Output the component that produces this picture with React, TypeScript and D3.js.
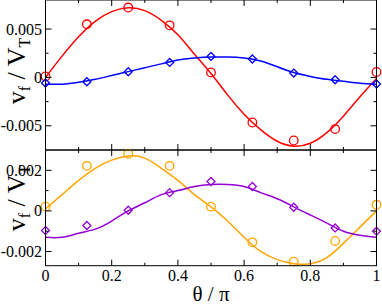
import React from "react";
import * as d3 from "d3";

// sample points (theta / pi)
const samples = [0, 0.125, 0.25, 0.375, 0.5, 0.625, 0.75, 0.875, 1];
const redPts = [0.0001, 0.00549, 0.00722, 0.00538, 0.00052, -0.00466, -0.00652, -0.00534, 0.00056];
const bluePts = [-0.00058, -0.00045, 0.00059, 0.00155, 0.00217, 0.0019, 0.00045, -0.00024, -0.00068];
const orangePts = [0.00021, 0.00222, 0.00281, 0.00222, 0.00021, -0.00155, -0.0025, -0.00148, 0.0003];
const purplePts = [-0.00097, -0.00072, 0.00003, 0.0009, 0.00145, 0.0012, 0.00018, -0.00084, -0.001];

// fitted curves, read at 0.05 steps
const curveX = [0, 0.05, 0.1, 0.15, 0.2, 0.25, 0.3, 0.35, 0.4, 0.45, 0.5, 0.55, 0.6, 0.65, 0.7, 0.75, 0.8, 0.85, 0.9, 0.95, 1];
const redFit = [0, 0.0022, 0.0042, 0.0058, 0.0068, 0.0072, 0.0069, 0.0059, 0.0044, 0.0024, 0.0004, -0.0018, -0.0038, -0.0054, -0.0066, -0.0071, -0.0068, -0.0057, -0.004, -0.002, -0.0001];
const blueFit = [-0.0007, -0.0007, -0.0005, -0.0002, 0.0002, 0.0006, 0.001, 0.0014, 0.0018, 0.002, 0.0021, 0.0021, 0.002, 0.0017, 0.0011, 0.0005, 0.0001, -0.0002, -0.0004, -0.0006, -0.0007];
const orangeFit = [0.0001, 0.0008, 0.0015, 0.0021, 0.0025, 0.0027, 0.0026, 0.0021, 0.0015, 0.0008, 0.0002, -0.0005, -0.0013, -0.002, -0.0024, -0.0026, -0.0026, -0.0023, -0.0016, -0.0008, 0];
const purpleFit = [-0.0013, -0.0013, -0.0011, -0.0009, -0.0005, 0, 0.0004, 0.0008, 0.001, 0.0012, 0.0013, 0.0013, 0.0012, 0.0009, 0.0006, 0.0002, -0.0002, -0.0006, -0.001, -0.0012, -0.0013];

// axis ticks
const xMajor = [0, 0.2, 0.4, 0.6, 0.8, 1];
const xLabels = ["0", "0.2", "0.4", "0.6", "0.8", "1"];
const xMinor = [0.1, 0.3, 0.5, 0.7, 0.9];
const topMajor = [-0.005, 0, 0.005];
const topLabels = ["-0.005", "0", "0.005"];
const topMinor = [-0.0025, 0.0025];
const botMajor = [-0.002, 0, 0.002];
const botLabels = ["-0.002", "0", "0.002"];
const botMinor = [-0.001, 0.001];

const W = 382;
const H = 305;
const font = "'Liberation Serif', 'Times New Roman', serif";

const Panel = ({ y, yMajor, yMinor, yLabels, series, showX }) => {
  const x = d3.scaleLinear().domain([0, 1]).range([45.5, 376.5]);
  const [y0, y1] = y.range();
  const line = d3
    .line()
    .x((d) => x(d[0]))
    .y((d) => y(d[1]))
    .curve(d3.curveNatural);

  return (
    <g>
      {series.map((s) => (
        <path
          key={s.color}
          d={line(curveX.map((v, i) => [v, s.fit[i]]))}
          fill="none"
          stroke={s.color}
          strokeWidth={1.5}
        />
      ))}
      {series.map((s) =>
        samples.map((v, i) => {
          const cx = x(v);
          const cy = y(s.pts[i]);
          return s.shape === "circle" ? (
            <circle key={s.color + i} cx={cx} cy={cy} r={4.3} fill="none" stroke={s.color} strokeWidth={1.3} />
          ) : (
            <path
              key={s.color + i}
              d={`M${cx},${cy - 4}L${cx + 4},${cy}L${cx},${cy + 4}L${cx - 4},${cy}Z`}
              fill="none"
              stroke={s.color}
              strokeWidth={1.3}
            />
          );
        })
      )}
      <rect x={x(0)} y={y1} width={x(1) - x(0)} height={y0 - y1} fill="none" stroke="#000" strokeWidth={1} />
      {xMajor.map((v) => (
        <g key={"xM" + v}>
          <line x1={x(v)} x2={x(v)} y1={y0} y2={y0 - 6} stroke="#000" />
          <line x1={x(v)} x2={x(v)} y1={y1} y2={y1 + 6} stroke="#000" />
        </g>
      ))}
      {xMinor.map((v) => (
        <g key={"xm" + v}>
          <line x1={x(v)} x2={x(v)} y1={y0} y2={y0 - 3} stroke="#000" />
          <line x1={x(v)} x2={x(v)} y1={y1} y2={y1 + 3} stroke="#000" />
        </g>
      ))}
      {yMajor.map((v, i) => (
        <g key={"yM" + v}>
          <line x1={x(0)} x2={x(0) + 6} y1={y(v)} y2={y(v)} stroke="#000" />
          <line x1={x(1)} x2={x(1) - 6} y1={y(v)} y2={y(v)} stroke="#000" />
          <text x={42} y={y(v)} dy="0.35em" textAnchor="end" fontSize={16} fontFamily={font}>
            {yLabels[i]}
          </text>
        </g>
      ))}
      {yMinor.map((v) => (
        <g key={"ym" + v}>
          <line x1={x(0)} x2={x(0) + 3} y1={y(v)} y2={y(v)} stroke="#000" />
          <line x1={x(1)} x2={x(1) - 3} y1={y(v)} y2={y(v)} stroke="#000" />
        </g>
      ))}
      {showX &&
        xMajor.map((v, i) => (
          <text key={"xl" + v} x={x(v)} y={281} textAnchor="middle" fontSize={16} fontFamily={font}>
            {xLabels[i]}
          </text>
        ))}
    </g>
  );
};

const YLabel = ({ cy }) => (
  <text transform={`translate(25,${cy}) rotate(-90)`} textAnchor="middle" fontSize={26} fontFamily={font}>
    v<tspan fontSize={16} dy={5}>f</tspan>
    <tspan dy={-5}> / V</tspan>
    <tspan fontSize={16} dy={5}>T</tspan>
  </text>
);

export default function App() {
  const yTop = d3.scaleLinear().domain([-0.0075, 0.008]).range([150, 0]);
  const yBot = d3.scaleLinear().domain([-0.0027, 0.003]).range([265.7, 150]);

  return (
    <svg width={W} height={H} style={{ position: "absolute", left: 0, top: 0, background: "#fff" }}>
      <Panel
        y={yTop}
        yMajor={topMajor}
        yMinor={topMinor}
        yLabels={topLabels}
        showX={false}
        series={[
          { color: "#ff0000", pts: redPts, fit: redFit, shape: "circle" },
          { color: "#0000ff", pts: bluePts, fit: blueFit, shape: "diamond" },
        ]}
      />
      <Panel
        y={yBot}
        yMajor={botMajor}
        yMinor={botMinor}
        yLabels={botLabels}
        showX={true}
        series={[
          { color: "#ffa500", pts: orangePts, fit: orangeFit, shape: "circle" },
          { color: "#9400d3", pts: purplePts, fit: purpleFit, shape: "diamond" },
        ]}
      />
      <YLabel cy={71} />
      <YLabel cy={198} />
      <text x={211} y={301} textAnchor="middle" fontSize={21} fontFamily={font}>
        θ / π
      </text>
    </svg>
  );
}
